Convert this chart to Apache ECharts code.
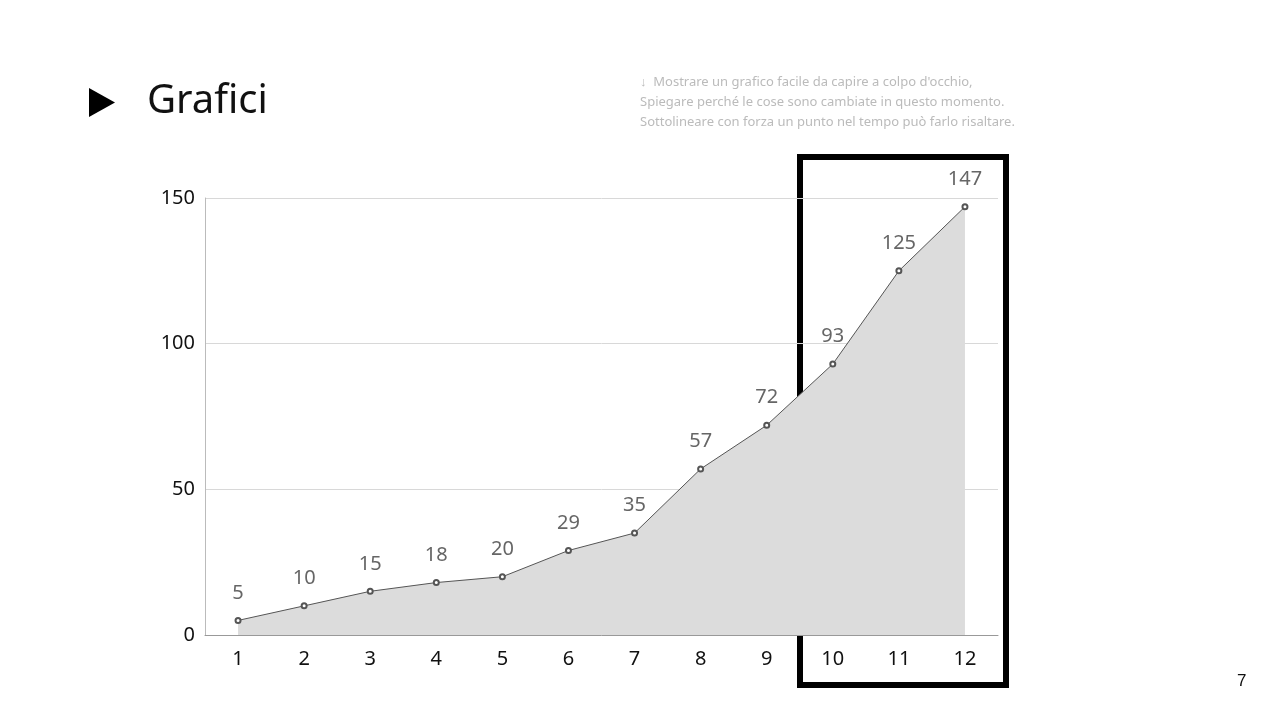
<!DOCTYPE html>
<html>
<head>
<meta charset="utf-8">
<script src="https://cdn.jsdelivr.net/npm/echarts@6/dist/echarts.min.js"></script>
<style>html,body{margin:0;padding:0;background:#fff}#chart{width:1280px;height:720px}</style>
</head>
<body>
<div id="chart"></div>
<script>
var months = ['1','2','3','4','5','6','7','8','9','10','11','12'];
var values = [5, 10, 15, 18, 20, 29, 35, 57, 72, 93, 125, 147];
var yTicks = [0, 50, 100, 150];
var captionLines = [
	'↓  Mostrare un grafico facile da capire a colpo d\'occhio,',
	'Spiegare perché le cose sono cambiate in questo momento.',
	'Sottolineare con forza un punto nel tempo può farlo risaltare.'
];

var chart = echarts.init(document.getElementById('chart'));
var font = '"Noto Sans", sans-serif';
chart.setOption({
	animation: false,
	grid: {left: 205, right: 282, top: 198, bottom: 85},
	xAxis: {
		type: 'category',
		data: months,
		boundaryGap: true,
		axisTick: {show: false},
		axisLine: {lineStyle: {color: '#999'}},
		axisLabel: {color: '#111', fontSize: 20, fontFamily: font, margin: 14}
	},
	yAxis: {
		type: 'value',
		min: yTicks[0],
		max: yTicks[yTicks.length - 1],
		interval: 50,
		axisLine: {show: true, lineStyle: {color: '#bbb'}},
		axisTick: {show: false},
		splitLine: {lineStyle: {color: '#d8d8d8'}},
		axisLabel: {color: '#111', fontSize: 20, fontFamily: font, margin: 10}
	},
	series: [{
		type: 'line',
		data: values,
		symbol: 'emptyCircle',
		symbolSize: 5,
		lineStyle: {color: '#555', width: 1},
		itemStyle: {color: '#555', borderWidth: 1},
		areaStyle: {color: '#dcdcdc', opacity: 1},
		label: {show: true, position: 'top', distance: 14, color: '#666', fontSize: 20, fontFamily: font}
	}],
	graphic: [
		{type: 'polygon', shape: {points: [[89, 88], [89, 117], [115, 102.5]]}, style: {fill: '#000'}},
		{type: 'text', left: 147, top: 82, style: {text: 'Grafici', font: '40px "Noto Sans", sans-serif', fill: '#111'}},
		{type: 'text', left: 640, top: 72, style: {text: captionLines.join('\n'), font: '13px "Noto Sans", sans-serif', fill: '#bbb', lineHeight: 20}},
		{type: 'rect', shape: {x: 800, y: 157, width: 206, height: 528}, style: {fill: 'none', stroke: '#000', lineWidth: 6}},
		{type: 'text', left: 1237, top: 673, style: {text: '7', font: '17px "Liberation Sans", sans-serif', fill: '#111'}}
	]
});
</script>
</body>
</html>
